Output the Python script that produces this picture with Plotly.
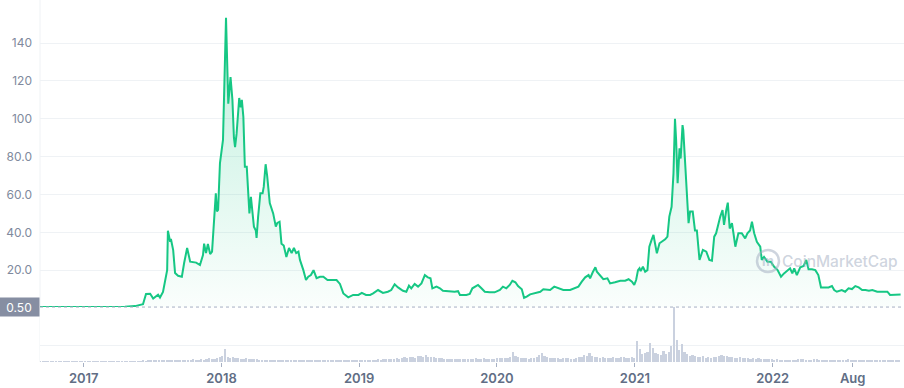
import plotly.graph_objects as go
import pandas as pd

price_dates = [
    "2016-09-07", "2016-11-25", "2017-02-13", "2017-04-20", "2017-05-17", "2017-06-07", "2017-06-15",
    "2017-06-26", "2017-07-04", "2017-07-17", "2017-07-22", "2017-07-30", "2017-08-10", "2017-08-12",
    "2017-08-18", "2017-08-20", "2017-08-26", "2017-08-31", "2017-09-08", "2017-09-18", "2017-09-24",
    "2017-10-02", "2017-10-10", "2017-10-26", "2017-11-05", "2017-11-13", "2017-11-16", "2017-11-21",
    "2017-11-26", "2017-12-02", "2017-12-07", "2017-12-12", "2017-12-17", "2017-12-20", "2017-12-23",
    "2017-12-28", "2018-01-05", "2018-01-13", "2018-01-19", "2018-01-25", "2018-01-30", "2018-02-03",
    "2018-02-06", "2018-02-10", "2018-02-15", "2018-02-17", "2018-02-21", "2018-02-24", "2018-02-28",
    "2018-03-04", "2018-03-09", "2018-03-13", "2018-03-16", "2018-03-20", "2018-03-25", "2018-03-28",
    "2018-04-02", "2018-04-04", "2018-04-08", "2018-04-14", "2018-04-20", "2018-04-23", "2018-04-28",
    "2018-05-02", "2018-05-09", "2018-05-18", "2018-05-25", "2018-05-29", "2018-06-04", "2018-06-09",
    "2018-06-15", "2018-06-22", "2018-06-29", "2018-07-06", "2018-07-12", "2018-07-18", "2018-07-24",
    "2018-07-28", "2018-08-06", "2018-08-13", "2018-08-19", "2018-08-26", "2018-09-02", "2018-09-10",
    "2018-09-19", "2018-09-28", "2018-10-09", "2018-10-20", "2018-11-02", "2018-11-11", "2018-11-20",
    "2018-12-03", "2018-12-16", "2018-12-30", "2019-01-08", "2019-01-19", "2019-01-30", "2019-02-07",
    "2019-02-20", "2019-03-05", "2019-03-18", "2019-03-27", "2019-04-05", "2019-04-14", "2019-04-27",
    "2019-05-06", "2019-05-13", "2019-05-19", "2019-05-28", "2019-06-06", "2019-06-15", "2019-06-24",
    "2019-07-02", "2019-07-09", "2019-07-14", "2019-07-25", "2019-08-03", "2019-08-11", "2019-08-29",
    "2019-09-11", "2019-09-20", "2019-09-25", "2019-10-12", "2019-10-21", "2019-10-28", "2019-11-06",
    "2019-11-12", "2019-11-21", "2019-11-30", "2019-12-13", "2019-12-26", "2020-01-09", "2020-01-17",
    "2020-01-26", "2020-02-04", "2020-02-11", "2020-02-19", "2020-02-26", "2020-03-07", "2020-03-13",
    "2020-03-20", "2020-03-29", "2020-04-11", "2020-04-25", "2020-05-03", "2020-05-12", "2020-05-21",
    "2020-06-01", "2020-06-12", "2020-06-25", "2020-07-13", "2020-07-26", "2020-08-04", "2020-08-13",
    "2020-08-22", "2020-08-31", "2020-09-04", "2020-09-11", "2020-09-18", "2020-09-22", "2020-09-29",
    "2020-10-09", "2020-10-20", "2020-10-27", "2020-11-09", "2020-11-23", "2020-12-06", "2020-12-15",
    "2020-12-24", "2020-12-30", "2021-01-04", "2021-01-09", "2021-01-13", "2021-01-16", "2021-01-22",
    "2021-01-28", "2021-02-03", "2021-02-08", "2021-02-14", "2021-02-19", "2021-02-23", "2021-02-28",
    "2021-03-07", "2021-03-13", "2021-03-22", "2021-03-28", "2021-04-02", "2021-04-08", "2021-04-13",
    "2021-04-17", "2021-04-20", "2021-04-24", "2021-04-29", "2021-05-02", "2021-05-07", "2021-05-09",
    "2021-05-14", "2021-05-18", "2021-05-23", "2021-05-27", "2021-06-03", "2021-06-09", "2021-06-14",
    "2021-06-21", "2021-06-30", "2021-07-09", "2021-07-17", "2021-07-24", "2021-07-30", "2021-08-04",
    "2021-08-10", "2021-08-15", "2021-08-21", "2021-08-25", "2021-08-31", "2021-09-04", "2021-09-09",
    "2021-09-15", "2021-09-19", "2021-09-24", "2021-10-02", "2021-10-11", "2021-10-20", "2021-10-26",
    "2021-11-02", "2021-11-07", "2021-11-13", "2021-11-20", "2021-11-29", "2021-12-03", "2021-12-09",
    "2021-12-18", "2021-12-27", "2022-01-05", "2022-01-14", "2022-01-23", "2022-01-31", "2022-02-09",
    "2022-02-16", "2022-02-22", "2022-02-27", "2022-03-06", "2022-03-15", "2022-03-24", "2022-03-31",
    "2022-04-06", "2022-04-15", "2022-04-24", "2022-04-28", "2022-05-02", "2022-05-09", "2022-05-20",
    "2022-05-29", "2022-06-07", "2022-06-13", "2022-06-20", "2022-07-03", "2022-07-12", "2022-07-21",
    "2022-07-30", "2022-08-08", "2022-08-17", "2022-08-26", "2022-09-04", "2022-09-13", "2022-09-22",
    "2022-10-05", "2022-10-18", "2022-11-01", "2022-11-08", "2022-11-18", "2022-12-06",
]

price_values = [
    0.5, 0.5, 0.5, 0.6, 1.0, 2.0, 7.4,
    7.5, 5.0, 7.0, 5.5, 8.5, 20.0, 40.8,
    35.0, 36.5, 30.6, 18.5, 17.0, 16.5, 23.8,
    31.7, 24.5, 24.0, 22.7, 28.0, 34.0, 29.0,
    33.8, 28.5, 29.8, 43.0, 60.6, 51.0, 51.8,
    76.6, 88.8, 153.4, 108.0, 122.0, 110.0, 90.0,
    85.0, 92.0, 104.6, 111.0, 106.0, 110.0, 101.0,
    74.6, 74.6, 58.8, 50.0, 58.8, 48.0, 43.0,
    41.0, 37.0, 48.0, 60.6, 60.6, 64.0, 76.0,
    70.0, 55.5, 50.0, 43.0, 45.0, 45.6, 34.0,
    33.0, 27.0, 31.7, 29.0, 31.7, 29.0, 29.8,
    25.4, 20.0, 14.8, 16.5, 17.4, 20.0, 15.8,
    16.5, 16.5, 14.8, 14.8, 14.8, 12.7, 7.7,
    5.6, 6.9, 6.9, 8.0, 6.9, 6.9, 7.7,
    9.5, 8.0, 8.6, 9.5, 12.5, 10.9, 9.1,
    8.6, 11.8, 10.4, 12.7, 11.3, 13.0, 17.4,
    16.2, 15.7, 10.4, 11.3, 10.4, 9.1, 8.6,
    8.6, 8.9, 6.9, 6.9, 7.4, 10.4, 11.3,
    12.2, 10.4, 8.6, 8.3, 8.3, 9.5, 11.3,
    10.4, 12.2, 14.4, 13.6, 11.6, 9.9, 5.4,
    6.0, 7.2, 7.8, 8.6, 9.9, 9.5, 9.5,
    11.3, 10.4, 9.5, 9.5, 10.4, 11.3, 13.9,
    16.2, 17.4, 15.7, 18.9, 21.5, 19.2, 17.4,
    15.2, 15.7, 13.0, 13.6, 14.4, 14.4, 15.2,
    13.9, 12.2, 14.8, 20.0, 21.0, 19.5, 21.8,
    19.2, 20.0, 32.4, 36.0, 38.6, 34.2, 28.9,
    34.2, 35.0, 36.3, 37.7, 48.3, 53.5, 71.0,
    100.0, 88.8, 65.9, 84.4, 79.0, 96.7, 94.0,
    74.7, 57.0, 44.8, 51.0, 51.0, 41.0, 41.0,
    25.4, 30.7, 29.8, 25.4, 25.0, 37.7, 39.5,
    44.8, 48.3, 51.8, 43.9, 51.8, 55.7, 42.0,
    44.8, 39.5, 32.4, 39.5, 39.5, 36.8, 39.5,
    41.0, 45.6, 39.5, 35.0, 32.4, 25.4, 27.0,
    24.5, 24.5, 21.8, 20.0, 16.5, 18.3, 20.0,
    21.0, 18.3, 21.0, 17.4, 21.5, 22.2, 25.4,
    20.5, 20.5, 20.0, 18.3, 17.4, 10.9, 10.9,
    10.9, 11.6, 9.5, 8.6, 9.5, 8.6, 10.4,
    10.0, 11.6, 10.9, 9.5, 9.5, 9.1, 9.5,
    8.6, 8.6, 8.6, 6.9, 6.9, 7.2,
]

volume_start = "2016-09-08"
volume_values = [
    0.4, 0.4, 0.4, 0.4, 0.4, 0.4, 0.4, 0.4, 0.4, 0.4, 0.4, 0.4, 0.4, 0.4, 0.4, 0.4, 0.4,
    0.4, 0.4, 0.4, 0.4, 0.4, 0.4, 0.4, 0.4, 0.4, 0.4, 0.4, 0.4, 0.4, 0.4, 0.4, 0.4, 0.4,
    0.5, 0.6, 0.6, 0.8, 1.0, 1.2, 1.0, 1.4, 1.1,
    1.3, 1.6, 1.2, 1.5, 1.8, 1.4, 1.6, 2.0, 1.5,
    1.7, 1.9, 1.6, 2.2, 1.8, 2.0, 2.6, 2.1, 2.4,
    2.8, 2.3, 3.0, 3.6, 2.8, 3.4, 4.2, 4.8,
    6.0, 13.0, 5.5, 4.5, 5.0, 3.8, 4.2, 3.5,
    3.2, 3.6, 2.8, 3.0, 2.6, 2.9, 2.4, 2.2, 2.5, 2.0, 2.2, 1.9, 2.1, 1.8,
    1.8, 1.6, 1.9, 1.5, 1.7, 1.4, 1.6, 1.5, 1.8, 1.4, 1.5, 1.3, 1.6, 1.4, 1.5, 1.2,
    1.4, 1.6, 1.3, 1.5, 1.2, 1.4, 1.3, 1.5, 1.6, 1.4, 1.5, 1.3, 1.6, 1.7, 1.5,
    1.8, 2.0, 1.7, 2.2, 2.4, 2.0, 2.6, 2.3, 2.8, 3.2, 2.6, 3.0, 3.4, 3.8, 3.2, 4.0,
    4.6, 3.6, 4.8, 5.5, 4.2, 5.8, 6.5, 5.0, 6.8, 5.2, 4.6, 5.4, 4.0, 3.6, 4.2, 3.4,
    3.0, 3.2, 2.8, 3.0, 2.6, 3.2, 2.8, 3.0, 3.4, 2.9, 3.2, 3.6, 3.0, 3.4, 3.8, 3.2,
    3.5, 3.0, 3.3, 3.6,
    4.0, 3.6, 4.4, 3.8, 5.0, 10.5, 6.0, 4.8, 4.2, 3.8, 4.0, 3.4, 3.6, 4.2, 5.5, 7.5,
    9.0, 6.5, 5.0, 4.4, 3.8, 4.2, 3.6, 3.2, 3.8, 4.4, 3.6, 3.0, 3.4, 4.0, 4.8, 5.5,
    7.0, 6.0, 9.0, 6.2, 5.4, 4.6, 4.2, 4.8, 4.0, 3.6, 4.2, 5.0, 4.4, 4.0, 4.6, 5.2,
    4.2, 3.8, 4.6, 4.0,
    21.0, 13.0, 8.0, 9.0, 10.0, 19.0, 14.0, 9.0, 8.0, 7.0, 11.0, 8.0, 10.0, 16.0,
    55.0, 22.0, 12.0, 18.0, 10.0, 8.0, 6.5, 7.0, 6.0, 5.5, 5.0, 6.0, 4.5, 5.0,
    4.2, 4.8, 5.5, 6.5, 7.2, 5.8, 6.0, 4.8, 5.2, 4.4, 4.0, 4.6, 3.8, 4.2, 3.6,
    3.4, 3.8, 3.2, 3.6, 3.0, 3.2, 2.8, 3.0, 2.6,
    2.4, 2.6, 2.2, 2.5, 2.3, 2.0, 2.2, 2.4, 2.1, 2.6, 3.2, 2.8, 2.4, 2.2, 2.5, 3.0,
    2.6, 2.3, 2.1, 2.4, 2.0, 2.2, 1.9, 2.1, 2.3, 2.0, 1.8, 2.2, 2.6, 2.0, 1.9, 1.7,
    2.0, 1.8, 1.6, 1.9, 2.1, 1.8, 1.6, 1.7, 1.9, 1.6, 1.5, 1.7, 1.6, 1.4, 1.6, 1.5,
]
volume_dates = pd.date_range(volume_start, periods=len(volume_values), freq="7D")

x_tick_vals = ["2017-01-01", "2018-01-01", "2019-01-01", "2020-01-01",
               "2021-01-01", "2022-01-01", "2022-08-01"]
x_tick_text = ["2017", "2018", "2019", "2020", "2021", "2022", "Aug"]
y_tick_vals = [20, 40, 60, 80, 100, 120, 140]
y_tick_text = ["20.0", "40.0", "60.0", "80.0", "100", "120", "140"]
ref_price = 0.5
ref_label = "0.50"

GREEN = "#16c784"
GRID = "#eff2f5"
FONT = "Inter, Roboto, sans-serif"

fig = go.Figure()
fig.add_trace(go.Bar(
    x=volume_dates, y=volume_values, yaxis="y2",
    marker=dict(color="#cad1df", line=dict(width=0)),
    width=4.5 * 86400000, hoverinfo="skip",
))
fig.add_trace(go.Scatter(
    x=price_dates, y=price_values, mode="lines",
    line=dict(color=GREEN, width=2),
    fill="tozeroy",
    fillgradient=dict(type="vertical",
                      colorscale=[[0, "rgba(22,199,132,0.02)"], [1, "rgba(22,199,132,0.28)"]]),
))

fig.update_layout(
    width=904, height=388,
    margin=dict(l=40, r=0, t=0, b=26, autoexpand=False),
    plot_bgcolor="white", paper_bgcolor="white",
    showlegend=False,
    font=dict(family=FONT),
    xaxis=dict(
        type="date", range=["2016-09-07", "2022-12-15"],
        tickvals=x_tick_vals, ticktext=x_tick_text,
        anchor="y2", showgrid=False, zeroline=False, showline=False,
        ticks="outside", ticklen=4, tickwidth=1, tickcolor="#a6b0c3",
        tickfont=dict(size=13, color="#616e85", family=FONT, weight=600),
        automargin=False,
    ),
    yaxis=dict(
        domain=[54 / 362, 1], range=[0, 308 / 1.892],
        tickvals=y_tick_vals, ticktext=y_tick_text,
        showgrid=True, gridcolor=GRID, gridwidth=1,
        zeroline=False, showline=False, ticks="",
        ticklabelstandoff=7,
        tickfont=dict(size=12, color="#808a9d", family=FONT),
        automargin=False,
    ),
    yaxis2=dict(
        domain=[0, 55 / 362], range=[0, 55],
        tickvals=[17], showticklabels=False,
        showgrid=True, gridcolor=GRID, zeroline=False, showline=False,
        automargin=False,
    ),
    bargap=0,
)

fig.add_shape(type="line", xref="paper", yref="y", x0=0, x1=1, y0=ref_price, y1=ref_price,
              line=dict(color="#a6b0c3", width=1, dash="dot"), layer="above")
fig.add_shape(type="line", xref="paper", yref="paper", x0=0, x1=0, y0=0, y1=1,
              line=dict(color=GRID, width=1), layer="below")

fig.add_annotation(x=0, xref="paper", xanchor="right", y=ref_price, yref="y", yanchor="middle",
                   text=ref_label, showarrow=False, bgcolor="#868ea2",
                   font=dict(color="white", size=12, family=FONT),
                   width=36, height=14, borderpad=2, align="center")

# watermark
wm_color = "rgba(166,176,195,0.55)"
wm_y = (362 - 261) / 362
fig.add_annotation(x=(840 - 40) / 864, xref="paper", xanchor="center",
                   y=wm_y, yref="paper", yanchor="middle",
                   text="CoinMarketCap", showarrow=False,
                   font=dict(size=15.5, color=wm_color, family=FONT, weight=500))
fig.add_shape(type="circle", xref="paper", yref="paper",
              xsizemode="pixel", ysizemode="pixel",
              xanchor=(768 - 40) / 864, yanchor=wm_y,
              x0=-11, x1=11, y0=-11, y1=11,
              line=dict(color=wm_color, width=2.5))
fig.add_annotation(x=(768 - 40) / 864, xref="paper", xanchor="center",
                   y=wm_y, yref="paper", yanchor="middle",
                   text="m", showarrow=False,
                   font=dict(size=13, color=wm_color, family=FONT, weight=700))

fig.write_html("out.html", config={"displayModeBar": False},
               post_script="document.body.style.margin='0';document.body.style.overflow='hidden';")
